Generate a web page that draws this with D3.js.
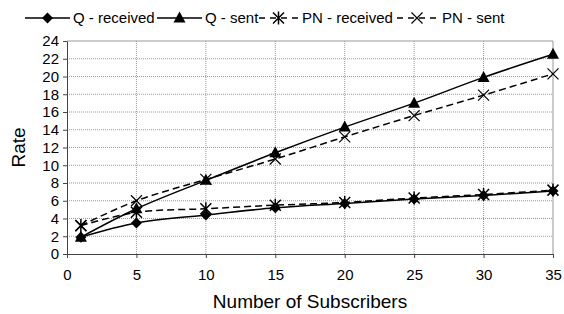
<!DOCTYPE html>
<html>
<head>
<meta charset="utf-8">
<script src="https://cdn.jsdelivr.net/npm/d3@7"></script>
<style>
  body { margin: 0; background: #fff; }
  text { font-family: "Liberation Sans", Arial, sans-serif; fill: #000; }
</style>
</head>
<body>
<svg id="chart" width="564" height="314"></svg>
<script>
const subscribers = [1, 5, 10, 15, 20, 25, 30, 35];
const qReceived = [1.9, 3.5, 4.4, 5.2, 5.7, 6.2, 6.6, 7.1];
const qSent = [1.9, 5.1, 8.3, 11.4, 14.3, 17.0, 19.9, 22.5];
const pnReceived = [3.2, 4.7, 5.1, 5.5, 5.8, 6.3, 6.7, 7.2];
const pnSent = [3.2, 6.0, 8.4, 10.7, 13.2, 15.6, 17.9, 20.3];
const xTicks = [0, 5, 10, 15, 20, 25, 30, 35];
const yTicks = [0, 2, 4, 6, 8, 10, 12, 14, 16, 18, 20, 22, 24];

const series = [
  { name: 'Q - received', values: qReceived, dash: null, marker: 'diamond' },
  { name: 'Q - sent', values: qSent, dash: null, marker: 'triangle' },
  { name: 'PN - received', values: pnReceived, dash: '7,4', marker: 'asterisk' },
  { name: 'PN - sent', values: pnSent, dash: '7,4', marker: 'cross' }
];

const svg = d3.select('#chart');
const margin = { top: 41, right: 11, bottom: 60, left: 67 };
const width = 564, height = 314;

const x = d3.scaleLinear().domain([0, 35]).range([margin.left, width - margin.right]);
const y = d3.scaleLinear().domain([0, 24]).range([height - margin.bottom, margin.top]);

// grid
svg.append('g')
  .selectAll('line')
  .data(yTicks.slice(1, -1))
  .join('line')
    .attr('x1', x(0)).attr('x2', x(35))
    .attr('y1', d => y(d)).attr('y2', d => y(d))
    .attr('stroke', '#999').attr('stroke-dasharray', '1,1');
svg.append('g')
  .selectAll('line')
  .data(xTicks.slice(1, -1))
  .join('line')
    .attr('x1', d => x(d)).attr('x2', d => x(d))
    .attr('y1', y(0)).attr('y2', y(24))
    .attr('stroke', '#999').attr('stroke-dasharray', '1,1');

// frame top/right
svg.append('path')
  .attr('d', `M${x(0)},${y(24)}H${x(35)}V${y(0)}`)
  .attr('fill', 'none').attr('stroke', '#999');

// axes
const xAxis = svg.append('g')
  .attr('transform', `translate(0,${y(0)})`)
  .call(d3.axisBottom(x).tickValues(xTicks).tickSize(4).tickSizeOuter(0).tickPadding(11));
const yAxis = svg.append('g')
  .attr('transform', `translate(${x(0)},0)`)
  .call(d3.axisLeft(y).tickValues(yTicks).tickSize(4).tickSizeOuter(0).tickPadding(4));
[xAxis, yAxis].forEach(a => {
  a.selectAll('text').attr('font-size', 15).attr('font-family', '"Liberation Sans", Arial, sans-serif');
  a.select('.domain').attr('stroke', '#444');
  a.selectAll('.tick line').attr('stroke', '#444');
});

svg.append('text')
  .attr('x', (x(0) + x(35)) / 2).attr('y', 308)
  .attr('text-anchor', 'middle').attr('font-size', 19)
  .text('Number of Subscribers');
svg.append('text')
  .attr('transform', `translate(25,${(y(0) + y(24)) / 2}) rotate(-90)`)
  .attr('text-anchor', 'middle').attr('font-size', 19)
  .text('Rate');

function drawMarker(g, type) {
  if (type === 'diamond') {
    g.append('path').attr('d', 'M0,-5.5L5.5,0L0,5.5L-5.5,0Z').attr('fill', '#000');
  } else if (type === 'triangle') {
    g.append('path').attr('d', 'M0,-6.5L6,4.5L-6,4.5Z').attr('fill', '#000');
  } else if (type === 'asterisk') {
    g.append('path').attr('d', 'M-5.5,-5.5L5.5,5.5M-5.5,5.5L5.5,-5.5M0,-6.5V6.5')
      .attr('stroke', '#000').attr('stroke-width', 1.5).attr('fill', 'none');
  } else {
    g.append('path').attr('d', 'M-5.5,-5.5L5.5,5.5M-5.5,5.5L5.5,-5.5')
      .attr('stroke', '#000').attr('stroke-width', 1.2).attr('fill', 'none');
  }
}

const line = d3.line()
  .x((d, i) => x(subscribers[i]))
  .y(d => y(d))
  .curve(d3.curveCatmullRom);

series.forEach(s => {
  svg.append('path')
    .attr('d', line(s.values))
    .attr('fill', 'none').attr('stroke', '#000').attr('stroke-width', 1.5)
    .attr('stroke-dasharray', s.dash);
  s.values.forEach((v, i) => {
    const g = svg.append('g').attr('transform', `translate(${x(subscribers[i])},${y(v)})`);
    drawMarker(g, s.marker);
  });
});

// legend
const legendItems = [
  { x0: 25, x1: 70, tx: 73 },
  { x0: 157, x1: 202, tx: 205 },
  { x0: 259, x1: 298, tx: 302 },
  { x0: 397, x1: 437, tx: 442 }
];
const legend = svg.append('g');
series.forEach((s, i) => {
  const it = legendItems[i];
  legend.append('line')
    .attr('x1', it.x0).attr('x2', it.x1).attr('y1', 18).attr('y2', 18)
    .attr('stroke', '#000').attr('stroke-width', 1.5)
    .attr('stroke-dasharray', s.dash ? '6,5' : null);
  drawMarker(legend.append('g').attr('transform', `translate(${(it.x0 + it.x1) / 2},18)`), s.marker);
  legend.append('text')
    .attr('x', it.tx).attr('y', 23).attr('font-size', 15)
    .text(s.name);
});
</script>
</body>
</html>
